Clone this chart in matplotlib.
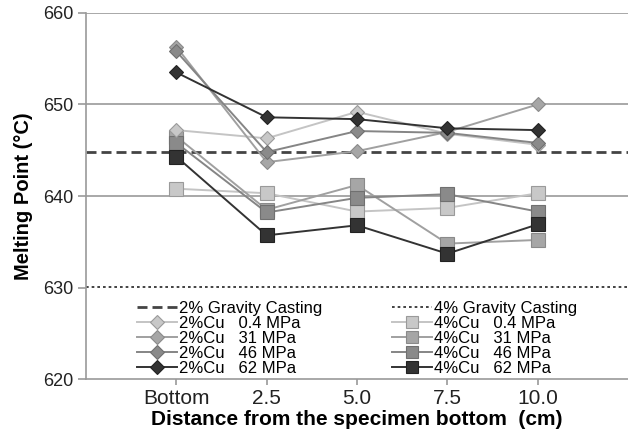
import matplotlib
matplotlib.use("Agg")
import matplotlib.pyplot as plt

plt.rcParams['font.family'] = ['Liberation Sans', 'DejaVu Sans']

categories = ["Bottom", "2.5", "5.0", "7.5", "10.0"]

cu2_labels = ["2%Cu   0.4 MPa", "2%Cu   31 MPa", "2%Cu   46 MPa", "2%Cu   62 MPa"]
cu2_values = [
    [647.2, 646.3, 649.2, 646.8, 645.6],
    [656.3, 643.7, 644.9, 647.0, 650.0],
    [655.8, 644.8, 647.1, 646.9, 645.8],
    [653.5, 648.6, 648.4, 647.4, 647.2],
]
cu4_labels = ["4%Cu   0.4 MPa", "4%Cu   31 MPa", "4%Cu   46 MPa", "4%Cu   62 MPa"]
cu4_values = [
    [640.8, 640.3, 638.3, 638.7, 640.3],
    [646.5, 638.5, 641.2, 634.8, 635.2],
    [645.8, 638.2, 639.8, 640.2, 638.3],
    [644.3, 635.7, 636.8, 633.7, 636.9],
]
gravity_labels = ["2% Gravity Casting", "4% Gravity Casting"]
gravity_values = [644.8, 630.1]

yticks = [620, 630, 640, 650, 660]

fills = ["#c8c8c8", "#a6a6a6", "#8a8a8a", "#333333"]
edges = ["#9a9a9a", "#8a8a8a", "#707070", "#222222"]
lines = ["#c4c4c4", "#a0a0a0", "#858585", "#333333"]

fig = plt.figure(figsize=(6.28, 4.47), dpi=100)
ax = fig.add_axes([0.137, 0.152, 0.863, 0.819])

x = list(range(len(categories)))

for gv in [640, 650, 660]:
    ax.axhline(gv, color="#9a9a9a", lw=1.2, zorder=1)

h_g2 = ax.axhline(gravity_values[0], color="#444444", lw=2.0, dashes=(3.6, 1.8), zorder=2)
h_g4 = ax.axhline(gravity_values[1], color="#222222", lw=1.2, dashes=(1.6, 1.8), zorder=2)

h2 = []
for i, vals in enumerate(cu2_values):
    h, = ax.plot(x, vals, color=lines[i], lw=1.4, marker="D", ms=7.5,
                 mfc=fills[i], mec=edges[i], mew=0.8, zorder=4 + i)
    h2.append(h)
h4 = []
for i, vals in enumerate(cu4_values):
    h, = ax.plot(x, vals, color=lines[i], lw=1.4, marker="s", ms=9.5,
                 mfc=fills[i], mec=edges[i], mew=0.8, zorder=3 + i * 0.1)
    h4.append(h)

ax.set_xlim(-1, 5)
ax.set_ylim(620, 660)
ax.set_xticks(x)
ax.set_xticklabels(categories)
ax.set_yticks(yticks)
for s in ["top", "right"]:
    ax.spines[s].set_visible(False)
for s in ["left", "bottom"]:
    ax.spines[s].set_color("#9a9a9a")
    ax.spines[s].set_linewidth(1.2)
ax.tick_params(axis="y", colors="#9a9a9a", labelcolor="#222222", labelsize=13,
               length=6, width=1.2, direction="out", pad=3)
ax.tick_params(axis="x", colors="#9a9a9a", labelcolor="#222222", labelsize=15,
               length=4.5, width=1.2, direction="out", pad=3)
ax.set_ylabel("Melting Point (°C)", fontsize=14.5, fontweight="bold", labelpad=7)
ax.set_xlabel("Distance from the specimen bottom  (cm)", fontsize=15,
              fontweight="bold", labelpad=1)

handles = [h_g2] + h2 + [h_g4] + h4
labels = [gravity_labels[0]] + cu2_labels + [gravity_labels[1]] + cu4_labels
leg = ax.legend(handles, labels, ncol=2, loc="lower center",
                bbox_to_anchor=(0.5, 0.0), frameon=False, fontsize=12,
                labelspacing=0.0, handlelength=2.4, handletextpad=0.1,
                columnspacing=4.2, borderpad=0.2, borderaxespad=0.0,
                markerscale=0.9)

fig.savefig("out.png", dpi=100)
